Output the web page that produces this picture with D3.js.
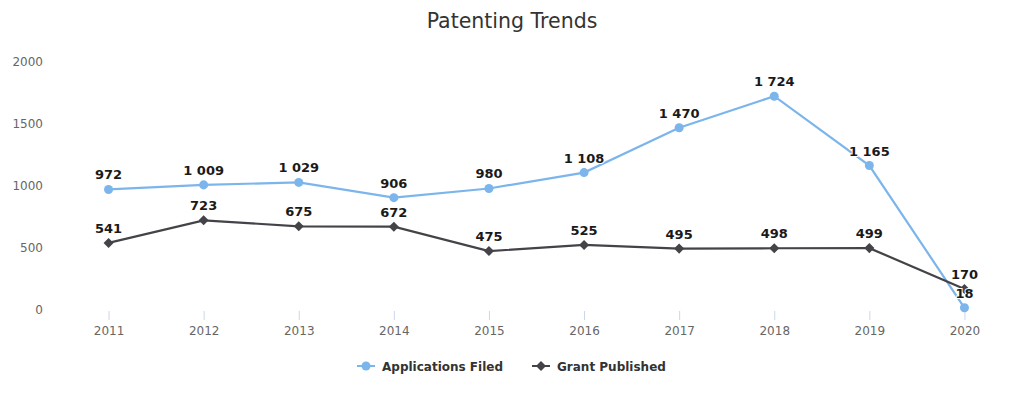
<!DOCTYPE html>
<html>
<head>
<meta charset="utf-8">
<script src="https://cdn.jsdelivr.net/npm/d3@7"></script>
<style>
    body { margin: 0; background: #fff; }
    svg { font-family: "DejaVu Sans", sans-serif; }
</style>
</head>
<body>
<svg id="chart" width="1024" height="402"></svg>
<script>
const years = ['2011', '2012', '2013', '2014', '2015', '2016', '2017', '2018', '2019', '2020'];
const applicationsFiled = [972, 1009, 1029, 906, 980, 1108, 1470, 1724, 1165, 18];
const grantPublished = [541, 723, 675, 672, 475, 525, 495, 498, 499, 170];
const yTicks = [0, 500, 1000, 1500, 2000];
const seriesNames = ['Applications Filed', 'Grant Published'];

const width = 1024;
const plotTop = 62;
const plotBottom = 310;
const plotLeft = 61;
const plotRight = 1012;

const x = d3.scaleBand()
    .domain(years)
    .range([plotLeft, plotRight]);
const y = d3.scaleLinear()
    .domain([0, 2000])
    .range([plotBottom, plotTop]);
const cx = d => x(d) + x.bandwidth() / 2;
const fmt = v => d3.format(',')(v).replace(/,/g, ' ');

const chart = d3.select('#chart');

chart.append('text')
    .attr('x', width / 2)
    .attr('y', 28)
    .attr('text-anchor', 'middle')
    .style('font-size', '20.5px')
    .style('fill', '#333')
    .text('Patenting Trends');

// y axis labels, no gridlines
chart.selectAll('.ylabel')
    .data(yTicks)
    .enter().append('text')
    .classed('ylabel', true)
    .attr('x', 43)
    .attr('y', d => y(d) + 4)
    .attr('text-anchor', 'end')
    .style('font-size', '12px')
    .style('fill', '#666')
    .text(d => d);

// x axis: ticks and labels only
const xAxis = chart.append('g')
    .attr('transform', `translate(0, ${plotBottom + 1})`)
    .call(d3.axisBottom(d3.scalePoint().domain(years).range([cx(years[0]), cx(years[years.length - 1])]))
        .tickSize(9)
        .tickPadding(6));
xAxis.select('.domain').remove();
xAxis.selectAll('line').attr('stroke', '#ccd6eb');
xAxis.selectAll('text')
    .style('font-family', '"DejaVu Sans", sans-serif')
    .style('font-size', '12px')
    .style('fill', '#666');

const series = [
    { name: seriesNames[0], values: applicationsFiled, color: '#7cb5ec', symbol: d3.symbolCircle },
    { name: seriesNames[1], values: grantPublished, color: '#434348', symbol: d3.symbolDiamond2 }
];
const markerSize = s => s === d3.symbolCircle ? 64 : 64;

const line = d3.line()
    .x((_, i) => cx(years[i]))
    .y(d => y(d));

series.forEach(s => {
    const g = chart.append('g');
    g.append('path')
        .attr('d', line(s.values))
        .attr('fill', 'none')
        .attr('stroke', s.color)
        .attr('stroke-width', 2.2);
    g.selectAll('path.marker')
        .data(s.values)
        .enter().append('path')
        .classed('marker', true)
        .attr('d', d3.symbol().type(s.symbol).size(markerSize(s.symbol)))
        .attr('transform', (d, i) => `translate(${cx(years[i])}, ${y(d)})`)
        .attr('fill', s.color);
});

series.forEach(s => {
    chart.append('g').selectAll('text')
        .data(s.values)
        .enter().append('text')
        .attr('x', (_, i) => cx(years[i]))
        .attr('y', d => y(d) - 10)
        .attr('text-anchor', 'middle')
        .style('font-size', '13px')
        .style('font-weight', 'bold')
        .style('fill', '#1a1a1a')
        .style('stroke', '#fff')
        .style('stroke-width', 2)
        .style('paint-order', 'stroke')
        .text(d => fmt(d));
});

// legend
const legendX = [357, 532];
const legend = chart.selectAll('.legend')
    .data(series)
    .enter().append('g')
    .classed('legend', true)
    .attr('transform', (_, i) => `translate(${legendX[i]}, 366)`);
legend.append('line')
    .attr('x1', 0)
    .attr('x2', 18)
    .attr('stroke', d => d.color)
    .attr('stroke-width', 2);
legend.append('path')
    .attr('d', d => d3.symbol().type(d.symbol).size(markerSize(d.symbol))())
    .attr('transform', 'translate(9, 0)')
    .attr('fill', d => d.color);
legend.append('text')
    .attr('x', 25)
    .attr('y', 4.5)
    .style('font-size', '12px')
    .style('font-weight', 'bold')
    .style('fill', '#333')
    .text(d => d.name);
</script>
</body>
</html>
